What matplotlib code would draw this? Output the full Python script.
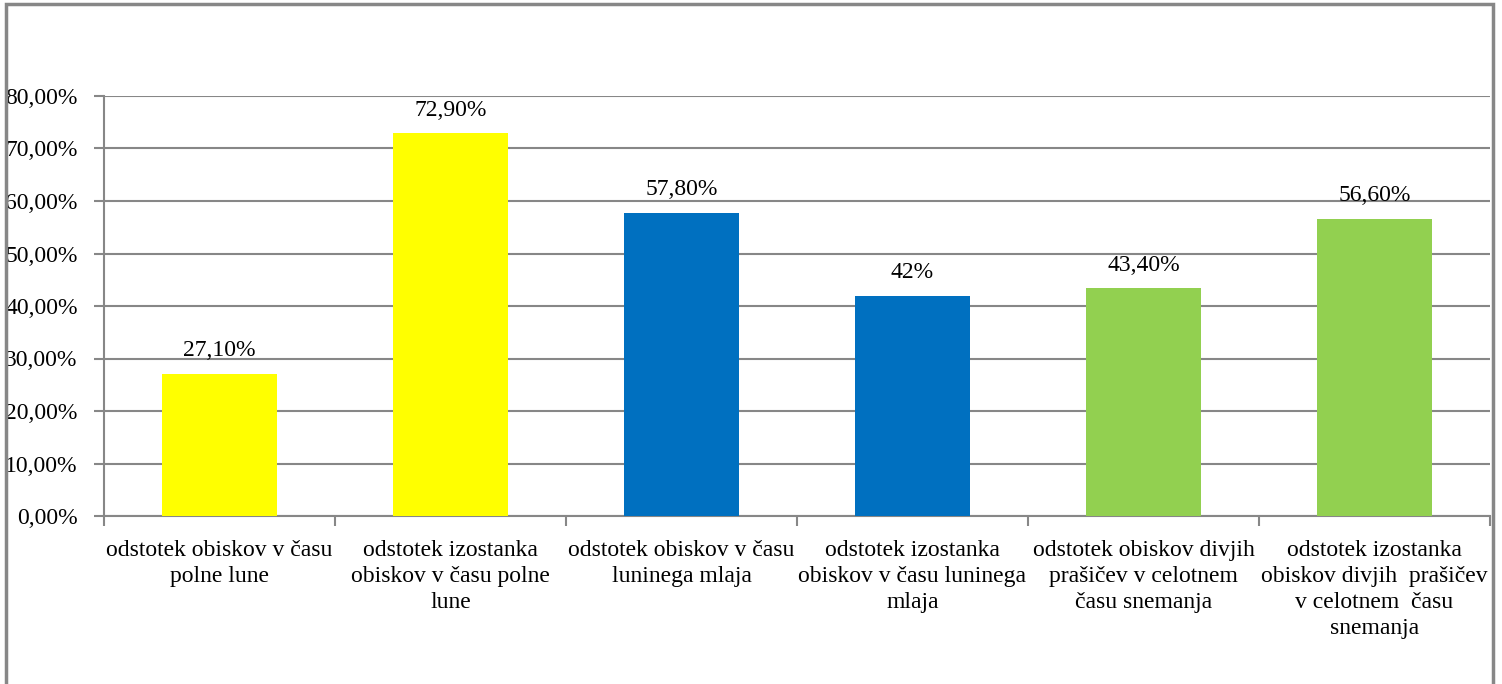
import numpy as np
import matplotlib.pyplot as plt
from matplotlib.patches import Rectangle

plt.rcParams['font.family'] = ['Liberation Serif', 'DejaVu Serif']

labels = ['odstotek obiskov v času\npolne lune',
          'odstotek izostanka\nobiskov v času polne\nlune',
          'odstotek obiskov v času\nluninega mlaja',
          'odstotek izostanka\nobiskov v času luninega\nmlaja',
          'odstotek obiskov divjih\nprašičev v celotnem\nčasu snemanja',
          'odstotek izostanka\nobiskov divjih  prašičev\nv celotnem  času\nsnemanja']
values = [0.271, 0.729, 0.578, 0.42, 0.434, 0.566]
value_text = ['27,10%', '72,90%', '57,80%', '42%', '43,40%', '56,60%']
colors = ['#FFFF00', '#FFFF00', '#0070C0', '#0070C0', '#92D050', '#92D050']

grey = '#878787'
fs = 17
fig = plt.figure(figsize=(15.02, 6.84), dpi=100)
fig.patches.append(Rectangle((6/1502, -0.05), (1493-6)/1502, 1.05 - 4/684,
                             transform=fig.transFigure, fill=False,
                             edgecolor=grey, linewidth=2.5))
ax = fig.add_axes([104/1502, 1-516/684, (1490-104)/1502, (516-96)/684])

x = np.arange(len(values))
ax.bar(x, values, width=0.5, color=colors, zorder=3)
for xi, v, t in zip(x, values, value_text):
    ax.text(xi, v + 0.024, t, ha='center', va='bottom', fontsize=fs)

ax.set_xlim(-0.5, len(values) - 0.5)
ax.set_ylim(0, 0.8)
ax.set_yticks(np.arange(0, 0.81, 0.1))
ax.set_yticklabels(['%d,00%%' % round(v * 100) for v in np.arange(0, 0.81, 0.1)],
                   fontsize=fs)
ax.yaxis.grid(True, color=grey, linewidth=1.5, zorder=0)

ax.set_xticks(np.arange(-0.5, len(values)), minor=False)
ax.set_xticklabels([])
ax.set_xticks(x, minor=True)
ax.set_xticklabels(labels, minor=True, fontsize=fs, linespacing=1.32)
ax.tick_params(axis='x', which='minor', length=0, pad=17)
ax.tick_params(axis='x', which='major', length=7, width=1.5, color=grey)
ax.tick_params(axis='y', length=7, width=1.5, color=grey, pad=12)

for s in ['top', 'right']:
    ax.spines[s].set_visible(False)
for s in ['left', 'bottom']:
    ax.spines[s].set_color(grey)
    ax.spines[s].set_linewidth(1.5)

fig.savefig('out.png', dpi=100)
